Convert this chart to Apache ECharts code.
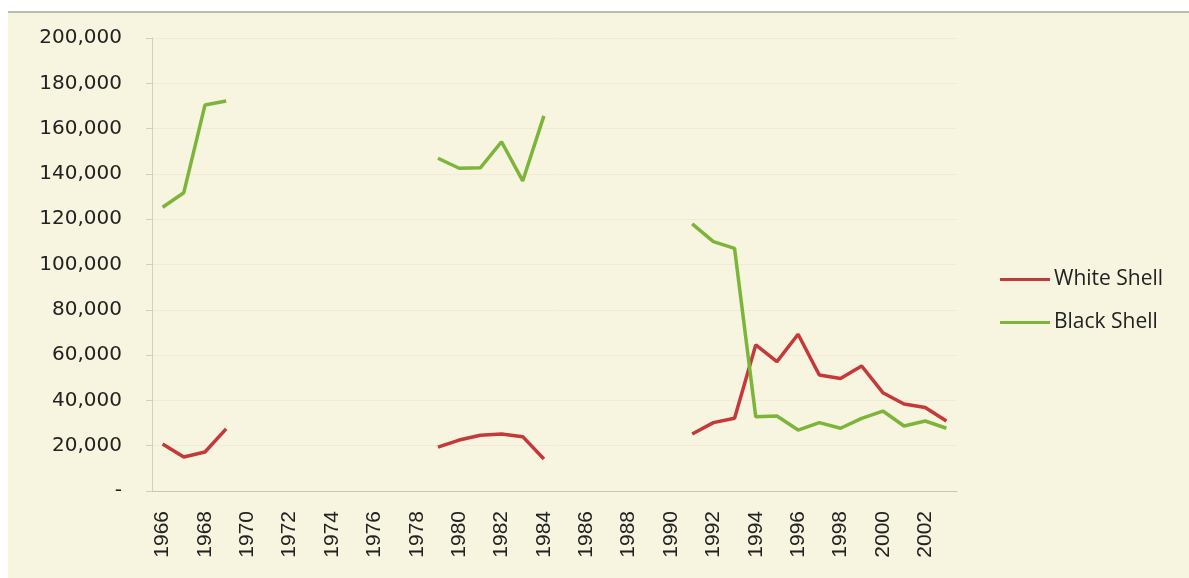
<!DOCTYPE html>
<html>
<head>
<meta charset="utf-8">
<script src="https://cdn.jsdelivr.net/npm/echarts@6/dist/echarts.min.js"></script>
<style>
  html, body { margin: 0; padding: 0; background: #ffffff; }
  #chart { width: 1189px; height: 578px; }
</style>
</head>
<body>
<div id="chart"></div>
<script>
// years on the category axis
const years = [];
for (let y = 1966; y <= 2003; y++) years.push(String(y));

// values, null = no data
const whiteShell = [
  20700, 15000, 17200, 27400,
  null, null, null, null, null, null, null, null, null,
  19400, 22500, 24600, 25200, 24000, 14100,
  null, null, null, null, null, null,
  25200, 30200, 32100, 64500, 57100, 69200, 51200, 49700, 55200, 43400, 38400, 36900, 30900
];
const blackShell = [
  125300, 131700, 170400, 172200,
  null, null, null, null, null, null, null, null, null,
  146900, 142500, 142700, 154200, 136900, 165600,
  null, null, null, null, null, null,
  117900, 110100, 107100, 32800, 33100, 26900, 30200, 27700, 32100, 35300, 28700, 30900, 27700
];

const chart = echarts.init(document.getElementById('chart'));

const option = {
  backgroundColor: '#ffffff',
  animation: false,
  graphic: [
    {
      type: 'rect', z: -10,
      shape: { x: 8, y: 12, width: 1181, height: 566 },
      style: { fill: '#f7f4df' }
    },
    {
      type: 'line', z: -9,
      shape: { x1: 8, y1: 12, x2: 1189, y2: 12 },
      style: { stroke: '#a9a79c', lineWidth: 1.5 }
    }
  ],
  grid: { left: 152, right: 232, top: 38, bottom: 87 },
  legend: {
    orient: 'vertical',
    left: 995,
    top: 264,
    icon: 'rect',
    itemWidth: 50,
    itemHeight: 3,
    itemGap: 22,
    textStyle: { fontFamily: 'Open Sans', fontSize: 21, color: '#222', padding: [0, 0, 0, -1] },
    data: ['White Shell', 'Black Shell']
  },
  xAxis: {
    type: 'category',
    data: years,
    boundaryGap: true,
    axisLine: { lineStyle: { color: '#c8c4b4' } },
    axisTick: { interval: 0, length: 6, lineStyle: { color: '#c8c4b4' } },
    axisLabel: {
      interval: 1,
      rotate: 90,
      margin: 20,
      fontFamily: 'Liberation Sans',
      fontSize: 21,
      color: '#222'
    },
    splitLine: { show: false }
  },
  yAxis: {
    type: 'value',
    min: 0,
    max: 200000,
    interval: 20000,
    axisLine: { show: true, lineStyle: { color: '#d2cfc0' } },
    axisTick: { show: true, inside: false, length: 6, lineStyle: { color: '#d2cfc0' } },
    axisLabel: {
      margin: 30,
      fontFamily: 'DejaVu Sans',
      fontSize: 20,
      color: '#222',
      formatter: v => v === 0 ? '-' : v.toLocaleString('en-US')
    },
    splitLine: { show: true, lineStyle: { color: '#efebd6', width: 1 } }
  },
  series: [
    {
      name: 'White Shell',
      type: 'line',
      data: whiteShell,
      symbol: 'none',
      connectNulls: false,
      lineStyle: { color: '#c5393a', width: 3.5 },
      itemStyle: { color: '#c5393a' }
    },
    {
      name: 'Black Shell',
      type: 'line',
      data: blackShell,
      symbol: 'none',
      connectNulls: false,
      lineStyle: { color: '#7cb53a', width: 3.5 },
      itemStyle: { color: '#7cb53a' }
    }
  ]
};

chart.setOption(option);
</script>
</body>
</html>
